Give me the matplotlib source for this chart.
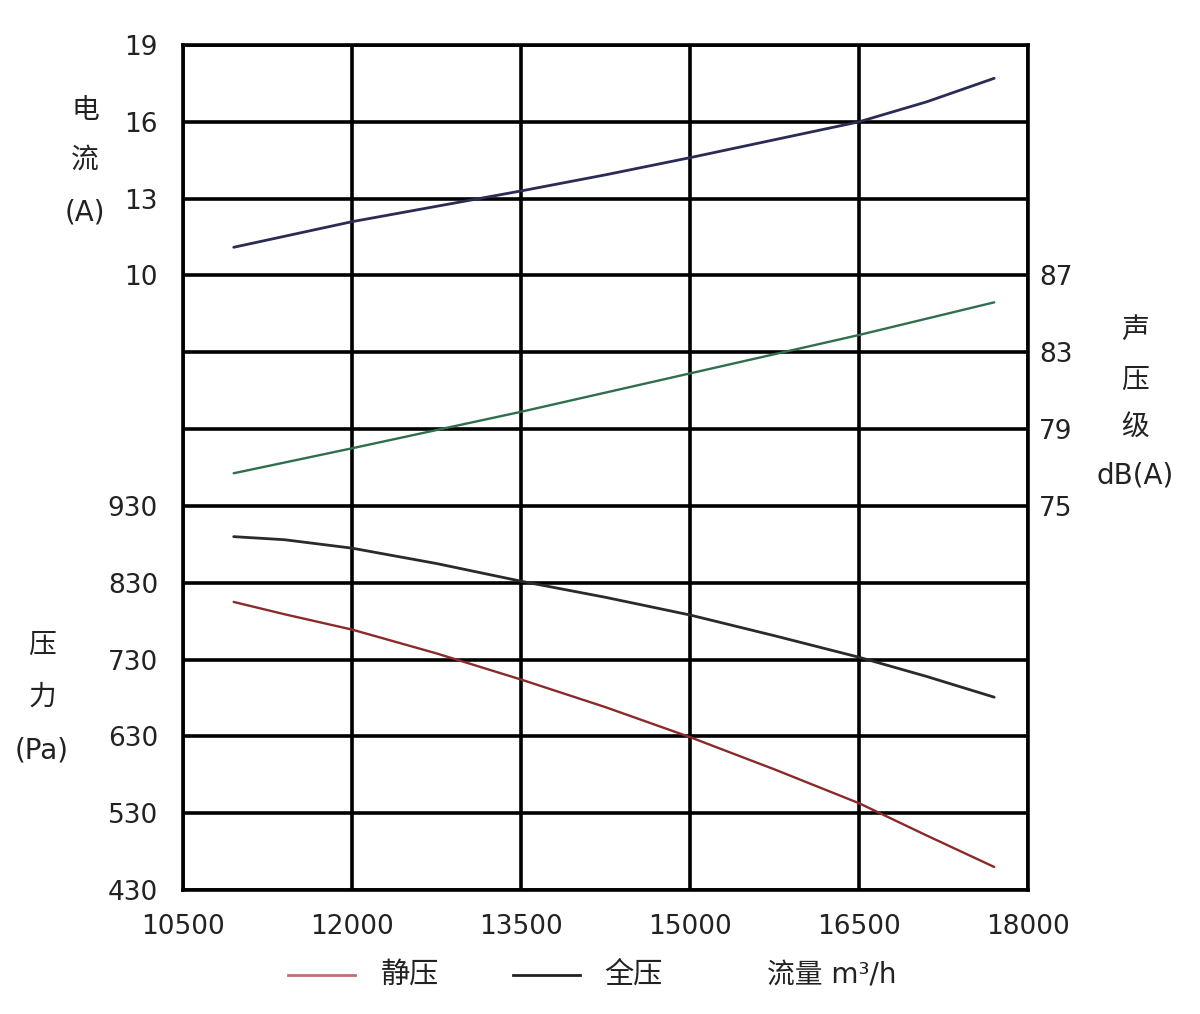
import matplotlib
matplotlib.use("Agg")
import matplotlib.pyplot as plt
from matplotlib.lines import Line2D

plt.rcParams['font.family'] = ['DejaVu Sans', 'Noto Sans CJK SC']

# ---- data ----
flow_i = [10950, 12000, 13500, 14250, 15000, 15750, 16500, 17100, 17700]
current = [11.1, 12.1, 13.3, 13.93, 14.6, 15.3, 16.0, 16.78, 17.7]

flow_n = [10950, 12000, 13500, 15000, 16500, 17700]
noise = [76.7, 78.0, 79.9, 81.9, 83.9, 85.6]

flow_p = [10950, 11400, 12000, 12750, 13500, 14250, 15000, 15750, 16500, 17100, 17700]
total_p = [890, 886, 875, 855, 832, 811, 788, 761, 733, 708, 681]
static_p = [805, 789, 769, 738, 704, 668, 629, 587, 543, 501, 460]

x_ticks = [10500, 12000, 13500, 15000, 16500, 18000]
p_ticks = [430, 530, 630, 730, 830, 930]
i_ticks = [10, 13, 16, 19]
n_ticks = [75, 79, 83, 87]

W, H = 1200, 1014
fig = plt.figure(figsize=(W / 100, H / 100), dpi=100)
L, R, T, B = 183, 1028, 45, 890
ax = fig.add_axes([L / W, 1 - B / H, (R - L) / W, (B - T) / H])

FS = 19
CJK_FS = 20
GRID_LW = 2.6
TXT = '#222222'

# pressure axis: 100 Pa per grid step, 11 steps
ax.set_xlim(10500, 18000)
ax.set_ylim(430, 1530)
grid_levels = list(range(430, 1531, 100))
ax.set_yticks(grid_levels)
ax.set_yticklabels([str(v) if v in p_ticks else '' for v in grid_levels])
ax.set_xticks(x_ticks)
ax.set_xticklabels([str(v) for v in x_ticks])
ax.grid(True, color='black', linewidth=GRID_LW)
ax.tick_params(axis='y', length=0, pad=18, labelsize=FS, labelcolor=TXT)
ax.tick_params(axis='x', length=0, pad=17, labelsize=FS, labelcolor=TXT)
for s in ax.spines.values():
    s.set_linewidth(GRID_LW)
    s.set_color('black')

# current axis (left side, upper part)
ax_i = ax.twinx()
ax_i.set_ylim(-14, 19)
ax_i.yaxis.tick_left()
ax_i.set_yticks(i_ticks)
ax_i.set_yticklabels([str(v) for v in i_ticks])
ax_i.tick_params(axis='y', length=0, pad=18, labelsize=FS, labelcolor=TXT)
for s in ax_i.spines.values():
    s.set_visible(False)

# noise axis (right side)
ax_n = ax.twinx()
ax_n.set_ylim(55, 99)
ax_n.yaxis.tick_right()
ax_n.set_yticks(n_ticks)
ax_n.set_yticklabels([str(v) for v in n_ticks])
ax_n.tick_params(axis='y', length=0, pad=8, labelsize=FS, labelcolor=TXT)
for s in ax_n.spines.values():
    s.set_visible(False)

ax_i.plot(flow_i, current, color='#2b2b55', linewidth=2.0, solid_capstyle='round')
ax_n.plot(flow_n, noise, color='#2f6f4e', linewidth=1.7, solid_capstyle='round')
ax.plot(flow_p, total_p, color='#2a2a2a', linewidth=2.0, solid_capstyle='round')
ax.plot(flow_p, static_p, color='#8a2a2a', linewidth=1.7, solid_capstyle='round')

# axis titles (vertical stacked text)
def put(x, y, s, fs=CJK_FS):
    fig.text(x / W, 1 - y / H, s, ha='center', va='center', fontsize=fs, color=TXT)

for y, s in [(110, '电'), (160, '流'), (212, '(A)')]:
    put(85, y, s)
for y, s in [(645, '压'), (697, '力'), (750, '(Pa)')]:
    put(42, y, s)
for y, s in [(330, '声'), (380, '压'), (428, '级'), (475, 'dB(A)')]:
    put(1135, y, s)

# legend row at bottom
ly = 1 - 975 / H
fig.add_artist(Line2D([288 / W, 355 / W], [ly, ly], color='#c07070', linewidth=2))
put(410, 975, '静压', 21)
fig.add_artist(Line2D([513 / W, 580 / W], [ly, ly], color='#222222', linewidth=2))
put(633, 975, '全压', 21)
put(832, 975, '流量 m³/h', 20)

fig.savefig('out.png', dpi=100, facecolor='white')
